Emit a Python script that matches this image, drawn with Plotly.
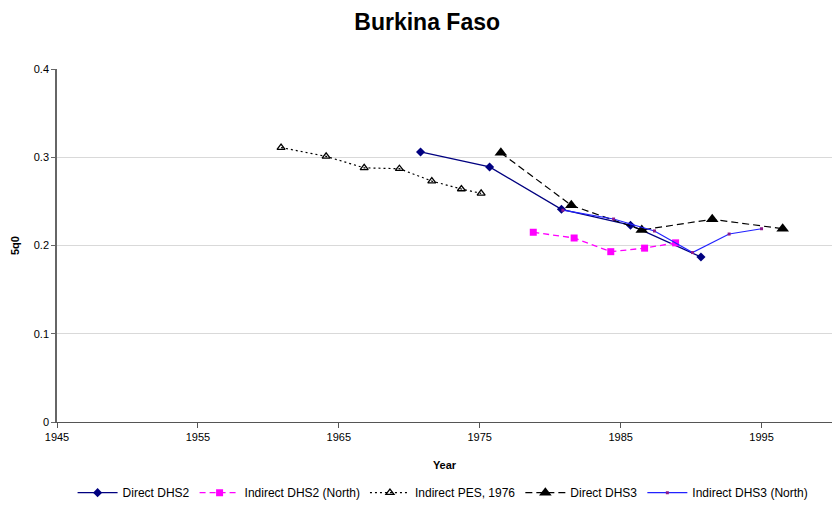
import plotly.graph_objects as go

# Burkina Faso under-five mortality (5q0) estimates by source
direct_dhs2_year = [1970.8, 1975.7, 1980.8, 1985.7, 1990.7]
direct_dhs2_q = [0.306, 0.289, 0.241, 0.223, 0.187]

ind_dhs2_year = [1978.8, 1981.7, 1984.3, 1986.7, 1988.9]
ind_dhs2_q = [0.215, 0.2085, 0.193, 0.197, 0.203]

pes_year = [1960.9, 1964.1, 1966.8, 1969.3, 1971.6, 1973.7, 1975.1]
pes_q = [0.311, 0.301, 0.288, 0.287, 0.273, 0.264, 0.259]

direct_dhs3_year = [1976.5, 1981.5, 1986.5, 1991.5, 1996.5]
direct_dhs3_q = [0.305, 0.2455, 0.2176, 0.2297, 0.219]

ind_dhs3_year = [1980.9, 1984.5, 1987.4, 1990.1, 1992.7, 1995.0]
ind_dhs3_q = [0.240, 0.230, 0.2165, 0.192, 0.213, 0.219]

x_ticks = [1945, 1955, 1965, 1975, 1985, 1995]
y_ticks = [0, 0.1, 0.2, 0.3, 0.4]

FONT = "Liberation Sans, Arial, sans-serif"

data = [
    go.Scatter(x=direct_dhs2_year, y=direct_dhs2_q, name="Direct DHS2",
               mode="lines+markers",
               line=dict(color="#000080", width=1.3),
               marker=dict(symbol="diamond", size=7, color="#000080")),
    go.Scatter(x=ind_dhs2_year, y=ind_dhs2_q, name="Indirect DHS2 (North)",
               mode="lines+markers",
               line=dict(color="#FF00FF", width=1.3, dash="6px,4px"),
               marker=dict(symbol="square", size=7, color="#FF00FF")),
    go.Scatter(x=pes_year, y=pes_q, name="Indirect PES, 1976",
               mode="lines+markers",
               line=dict(color="black", width=1.2, dash="2px,3px"),
               marker=dict(symbol="triangle-up-open", size=7, color="black",
                           line=dict(width=1.3))),
    go.Scatter(x=direct_dhs3_year, y=direct_dhs3_q, name="Direct DHS3",
               mode="lines+markers",
               line=dict(color="black", width=1.2, dash="7px,4px"),
               marker=dict(symbol="triangle-up", size=11, color="black")),
    go.Scatter(x=ind_dhs3_year, y=ind_dhs3_q, name="Indirect DHS3 (North)",
               mode="lines+markers",
               line=dict(color="#2222FF", width=1.2),
               marker=dict(symbol="square", size=3, color="#8B1A8B")),
]

layout = go.Layout(
    width=836, height=510,
    paper_bgcolor="white", plot_bgcolor="white",
    font=dict(family=FONT, size=11, color="black"),
    title=dict(text="<b>Burkina Faso</b>", x=0.511, xanchor="center",
               y=0.957, yanchor="middle",
               font=dict(family=FONT, size=23, color="black")),
    margin=dict(l=57, r=4, t=69, b=88),
    showlegend=True,
    legend=dict(orientation="h", xref="container", x=0.53, xanchor="center",
                yref="container", y=0.034, yanchor="middle",
                font=dict(family=FONT, size=12), itemwidth=40,
                tracegroupgap=0, traceorder="normal"),
    xaxis=dict(range=[1945, 2000], tickvals=x_ticks, showgrid=False,
               zeroline=False, showline=True, linecolor="#555555",
               linewidth=1.3, ticks="outside", ticklen=5, tickcolor="#555555",
               automargin=False,
               title=dict(text="<b>Year</b>", standoff=18,
                          font=dict(family=FONT, size=11))),
    yaxis=dict(range=[0, 0.4], tickvals=y_ticks,
               ticktext=["0", "0.1", "0.2", "0.3", "0.4"],
               showgrid=True, gridcolor="#D9D9D9", gridwidth=1,
               zeroline=False, showline=True, linecolor="#666666",
               linewidth=1.5, ticks="outside", ticklen=4, tickcolor="#666666",
               automargin=False,
               title=dict(text="<b>5q0</b>", standoff=12,
                          font=dict(family=FONT, size=11))),
)

fig = go.Figure(data=data, layout=layout)
fig.write_html("out.html", config={"displayModeBar": False},
               post_script="document.body.style.margin='0';")
